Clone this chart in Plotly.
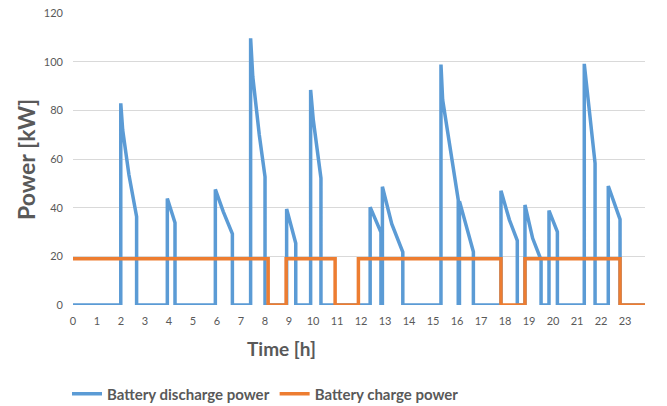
import plotly.graph_objects as go

# Battery discharge power (time in hours, power in kW)
discharge_t = [0, 1.99, 1.99, 2.07, 2.33, 2.65, 2.65, 3.93, 3.93, 4.25, 4.25,
               5.93, 5.93, 6.26, 6.64, 6.64, 7.40, 7.40, 7.49, 7.76, 8.0, 8.0,
               8.9, 8.9, 9.28, 9.28, 9.9, 9.9, 10.01, 10.33, 10.33,
               12.38, 12.38, 12.83, 12.83, 12.89, 12.89, 13.28, 13.74, 13.74,
               15.33, 15.33, 15.40, 15.71, 16.05, 16.05, 16.10, 16.10, 16.68, 16.68,
               17.83, 17.83, 18.18, 18.51, 18.51, 18.83, 18.83, 19.15, 19.5, 19.5,
               19.83, 19.83, 20.18, 20.18, 21.3, 21.3, 21.75, 21.75,
               22.3, 22.3, 22.79, 22.79, 23.83]
discharge_p = [0, 0, 82.9, 71.9, 53.5, 36.3, 0, 0, 43.8, 33.8, 0,
               0, 47.5, 38.4, 29.2, 0, 0, 109.6, 93.8, 70.0, 52.7, 0,
               0, 39.5, 25.4, 0, 0, 88.4, 76.1, 52.1, 0,
               0, 40.2, 29.9, 0, 0, 48.6, 33.3, 21.7, 0,
               0, 98.8, 84.3, 63.7, 43.2, 0, 0, 42.7, 21.9, 0,
               0, 47.0, 35.0, 26.5, 0, 0, 41.1, 27.4, 18.5, 0,
               0, 38.8, 30.1, 0, 0, 99.1, 58.2, 0,
               0, 48.9, 35.2, 0, 0]

# Battery charge power
charge_t = [0, 8.13, 8.13, 8.88, 8.88, 10.92, 10.92, 11.89, 11.89, 17.83, 17.83,
            18.83, 18.83, 22.79, 22.79, 23.83]
charge_p = [19, 19, 0, 0, 19, 19, 0, 0, 19, 19, 0, 0, 19, 19, 0, 0]

hour_ticks = list(range(0, 24))
power_ticks = [0, 20, 40, 60, 80, 100, 120]

FONT = "Lato"
GREY = "#595959"

fig = go.Figure()
fig.add_trace(go.Scatter(x=discharge_t, y=discharge_p, mode="lines",
                         name="Battery discharge power",
                         line=dict(color="#5B9BD5", width=3.5)))
fig.add_trace(go.Scatter(x=charge_t, y=charge_p, mode="lines",
                         name="Battery charge power",
                         line=dict(color="#ED7D31", width=3.5)))

fig.update_layout(
    width=667, height=406,
    margin=dict(l=73, r=22, t=13, b=101, autoexpand=False),
    plot_bgcolor="white", paper_bgcolor="white",
    font=dict(family=FONT, color=GREY, size=11),
    showlegend=True,
    legend=dict(orientation="h", x=-0.0105, xanchor="left", y=-0.305, yanchor="middle",
                font=dict(family=FONT, size=15, color=GREY, weight="bold"),
                itemwidth=30, tracegroupgap=0, bgcolor="rgba(0,0,0,0)"),
    xaxis=dict(range=[0, 23.83], tickmode="array", tickvals=hour_ticks,
               ticktext=[str(h) for h in hour_ticks], showgrid=False,
               zeroline=False, showline=False, ticks="", automargin=False,
               ticklabelstandoff=8,
               tickfont=dict(size=11, color=GREY)),
    yaxis=dict(range=[0, 120], tickmode="array", tickvals=power_ticks,
               showgrid=True, gridcolor="#D9D9D9", gridwidth=1,
               zeroline=False, showline=False, ticks="", automargin=False,
               ticklabelstandoff=9,
               tickfont=dict(size=11, color=GREY)),
    annotations=[
        dict(text="Time [h]", x=0.365, y=-0.148, xref="paper", yref="paper",
             xanchor="center", yanchor="middle", showarrow=False,
             font=dict(family=FONT, size=19, color=GREY, weight="bold")),
        dict(text="Power [kW]", x=-0.082, y=0.497, xref="paper", yref="paper",
             xanchor="center", yanchor="middle", showarrow=False, textangle=-90,
             font=dict(family=FONT, size=23, color=GREY, weight="bold")),
    ],
)

fig.write_html("out.html", config={"displayModeBar": False},
               post_script="document.body.style.margin='0';document.body.style.overflow='hidden';")
